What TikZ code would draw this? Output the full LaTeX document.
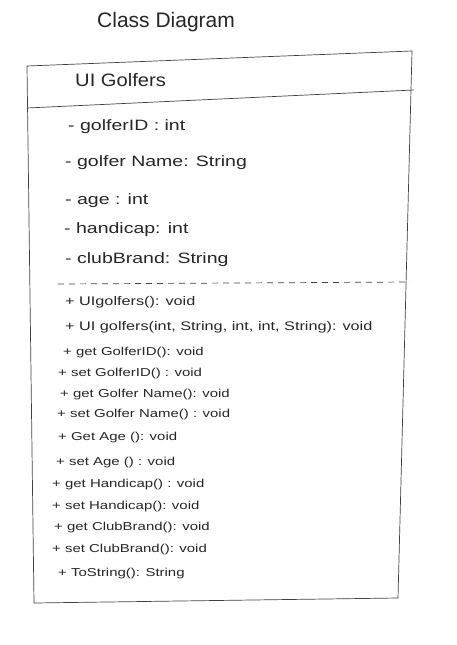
\documentclass[tikz,border=0pt]{standalone}
\usepackage{fontspec}
\setmainfont{Liberation Sans}
\newcommand\hwstretch[1]{\scalebox{1.3}[1]{#1}}
\begin{document}
\begin{tikzpicture}[x=1pt,y=-1pt,
  pen/.style={draw=black!75, line width=0.7pt},
  txt/.style={anchor=west, inner sep=0pt, text=black!85},
  title/.style={txt, font=\fontsize{21}{23}\selectfont},
  cname/.style={txt, font=\fontsize{18}{20}\selectfont},
  attr/.style={txt, font=\fontsize{15}{17}\selectfont},
  meth/.style={txt, font=\fontsize{12.5}{14}\selectfont},
  methsm/.style={txt, font=\fontsize{11.5}{13}\selectfont}]
\useasboundingbox (0,0) rectangle (456,645);
% box corners
\coordinate (tl) at (27,66);
\coordinate (tr) at (412,51);
\coordinate (hl) at (27,108);
\coordinate (hr) at (414,90);
\coordinate (bl) at (34,603);
\coordinate (br) at (398,598);
\coordinate (dl) at (58,284);
\coordinate (dr) at (410,282);
\draw[pen] (tl) -- (tr) -- (br) -- (bl) -- cycle;
\draw[pen] (hl) -- (hr);
\draw[pen, dash pattern=on 6pt off 5pt] (dl) -- (dr);
% texts
\node[title] (t) at (97,22) {Class Diagram};
\node[cname] (cn) at (75,80) {\scalebox{1.12}[1]{UI Golfers}};
\node[attr] (a1) at (68,127) {\hwstretch{- golferID : int}};
\node[attr] (a2) at (65,163) {\hwstretch{- golfer Name: String}};
\node[attr] (a3) at (65,201) {\hwstretch{- age : int}};
\node[attr] (a4) at (64,230) {\hwstretch{- handicap: int}};
\node[attr] (a5) at (65,260) {\hwstretch{- clubBrand: String}};
\node[meth] (m1) at (65,302) {\hwstretch{+ UIgolfers(): void}};
\node[meth] (m2) at (65,327) {\hwstretch{+ UI golfers(int, String, int, int, String): void}};
\node[methsm] (m3) at (63,353) {\hwstretch{+ get GolferID(): void}};
\node[methsm] (m4) at (58,374) {\hwstretch{+ set GolferID() : void}};
\node[methsm] (m5) at (60,395) {\hwstretch{+ get Golfer Name(): void}};
\node[methsm] (m6) at (57,415) {\hwstretch{+ set Golfer Name() : void}};
\node[methsm] (m7) at (58,438) {\hwstretch{+ Get Age (): void}};
\node[methsm] (m8) at (56,463) {\hwstretch{+ set Age () : void}};
\node[methsm] (m9) at (52,485) {\hwstretch{+ get Handicap() : void}};
\node[methsm] (m10) at (52,507) {\hwstretch{+ set Handicap(): void}};
\node[methsm] (m11) at (54,528) {\hwstretch{+ get ClubBrand(): void}};
\node[methsm] (m12) at (52,550) {\hwstretch{+ set ClubBrand(): void}};
\node[methsm] (m13) at (58,574) {\hwstretch{+ ToString(): String}};
\end{tikzpicture}
\end{document}
